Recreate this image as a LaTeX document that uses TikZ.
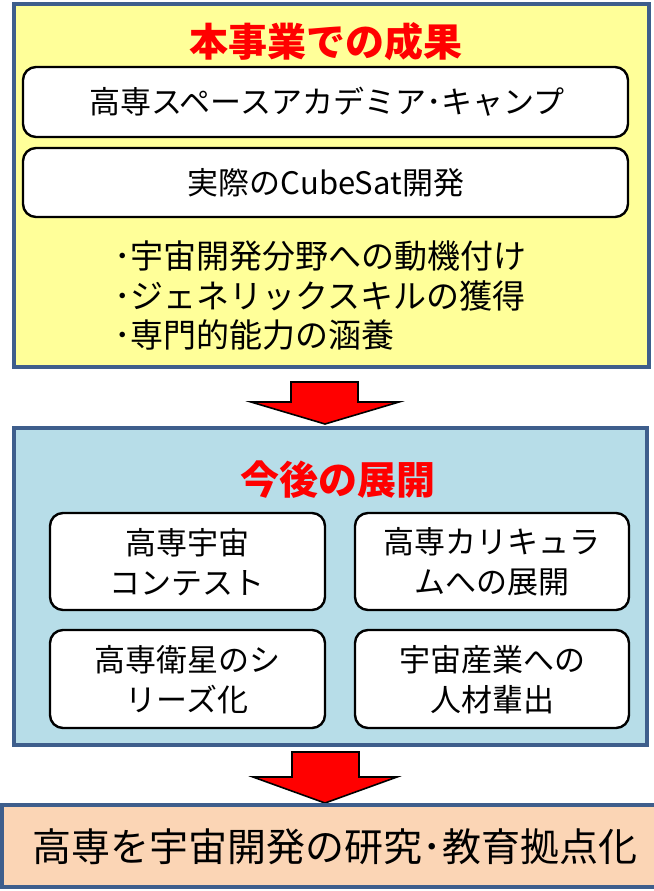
\documentclass[tikz,border=0pt]{standalone}
\usepackage{fontspec}
\setmainfont{Noto Sans CJK JP}
\definecolor{frameblue}{RGB}{62,94,140}
\definecolor{yellowbg}{RGB}{255,255,153}
\definecolor{bluebg}{RGB}{183,221,232}
\definecolor{peachbg}{RGB}{251,213,181}
\definecolor{titlered}{RGB}{255,0,0}
\tikzset{
  outerbox/.style={draw=frameblue,line width=3.5pt},
  roundbox/.style={draw=black,fill=white,line width=2.4pt,rounded corners=13pt},
  bigarrow/.style={draw=black,fill=titlered,line width=1.6pt,line join=miter},
  titletext/.style={inner sep=0pt,text=titlered,font=\fontsize{39}{44}\selectfont\bfseries},
  boxtext/.style={inner sep=0pt,font=\fontsize{31}{40}\selectfont,align=center},
  bullettext/.style={inner sep=0pt,anchor=west,font=\fontsize{33}{40}\selectfont},
  finaltext/.style={inner sep=0pt,font=\fontsize{39}{44}\selectfont}
}
\begin{document}
\begin{tikzpicture}[x=1pt,y=-1pt]
\useasboundingbox (0,0) rectangle (653,891);
% top yellow frame
\draw[outerbox,fill=yellowbg] (14,4) rectangle (649,367);
\node[titletext] (t1) at (326,42) {本事業での成果};
\draw[roundbox] (23,67) rectangle (628,137);
\node[boxtext] (b1) at (327,102) {高専スペースアカデミア･キャンプ};
\draw[roundbox] (23,148) rectangle (628,217);
\node[boxtext] (b2) at (326,183) {実際のCubeSat開発};
\node[bullettext] (p1) at (114,256) {･宇宙開発分野への動機付け};
\node[bullettext] (p2) at (114,296) {･ジェネリックスキルの獲得};
\node[bullettext] (p3) at (114,335) {･専門的能力の涵養};
% arrow 1
\draw[bigarrow] (291,382) -- (358,382) -- (358,402) -- (399,402) -- (325,424) -- (251,402) -- (291,402) -- cycle;
% blue frame
\draw[outerbox,fill=bluebg] (14,428) rectangle (647,745);
\node[titletext] (t2) at (338,480) {今後の展開};
\draw[roundbox] (50,513) rectangle (325,610);
\node[boxtext] (c1) at (187,562) {高専宇宙\\コンテスト};
\draw[roundbox] (355,513) rectangle (629,610);
\node[boxtext] (c2) at (492,562) {高専カリキュラ\\ムへの展開};
\draw[roundbox] (50,630) rectangle (325,728);
\node[boxtext] (c3) at (187,680) {高専衛星のシ\\リーズ化};
\draw[roundbox] (355,630) rectangle (629,728);
\node[boxtext] (c4) at (492,680) {宇宙産業への\\人材輩出};
% arrow 2
\draw[bigarrow] (292,752) -- (359,752) -- (359,777) -- (397,777) -- (325,803) -- (253,777) -- (292,777) -- cycle;
% final frame
\draw[outerbox,fill=peachbg] (1.8,805) rectangle (670,887);
\node[finaltext] (f) at (335,847) {高専を宇宙開発の研究･教育拠点化};
\end{tikzpicture}
\end{document}
